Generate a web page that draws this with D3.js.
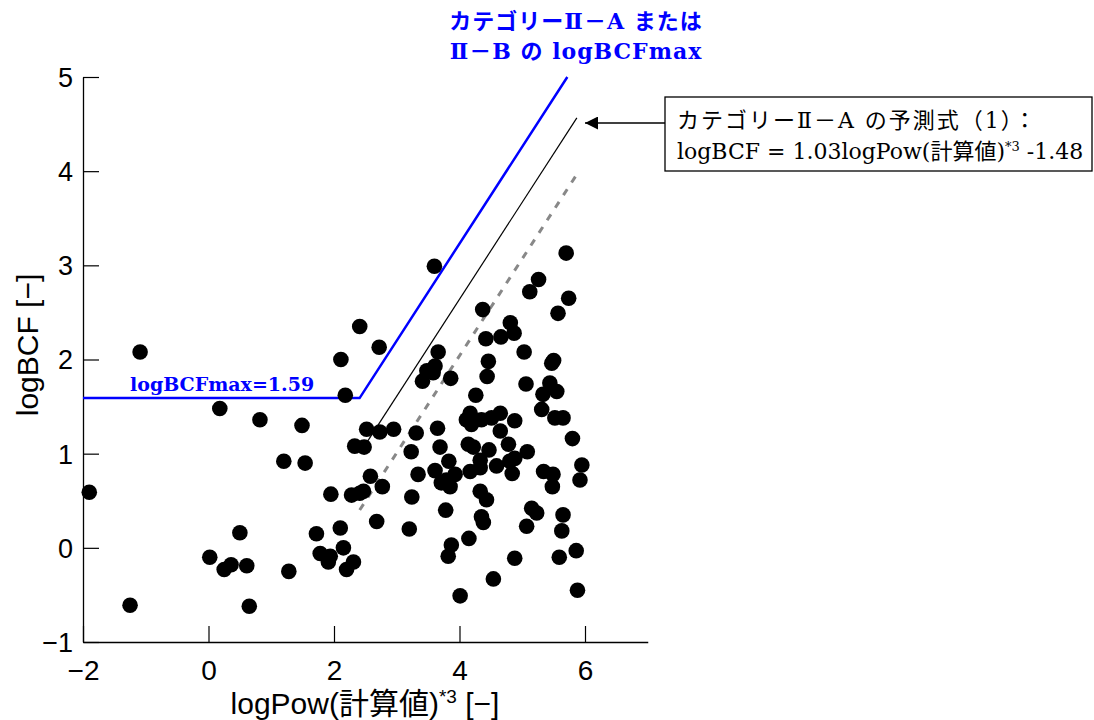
<!DOCTYPE html>
<html>
<head>
<meta charset="utf-8">
<script src="https://cdn.jsdelivr.net/npm/d3@7"></script>
<style>
body { margin: 0; background: #fff; }
.sans { font-family: "Liberation Sans", Arial, "Noto Sans CJK JP", sans-serif; }
.serif { font-family: "DejaVu Serif", "Liberation Serif", "Noto Sans CJK JP", serif; }
</style>
</head>
<body>
<svg id="chart" width="1094" height="720"></svg>
<script>
// measured points: logPow (calc) vs logBCF
var logPow = [
	-1.90, -1.09, -1.25, 0.18, 0.82, 1.49, 1.20, 1.54, 0.02, 0.25,
	0.36, 0.50, 0.61, 0.65, 1.28, 1.72, 1.78, 1.91, 1.94, 2.15,
	2.10, 1.95, 2.20, 2.31, 2.11, 2.18, 2.41, 2.72, 2.52, 2.73,
	2.95, 2.33, 2.48, 2.58, 2.77, 2.28, 2.41, 2.47, 2.68, 3.60,
	5.70, 5.26, 5.12, 5.74, 5.57, 4.37, 4.81, 4.87, 4.42, 4.66,
	5.03, 5.50, 5.47, 3.66, 3.61, 3.48, 3.58, 3.41, 3.86, 4.46,
	4.44, 5.06, 5.44, 5.55, 5.33, 4.26, 5.31, 5.52, 5.65, 5.80,
	4.17, 4.11, 4.19, 4.35, 4.51, 4.65, 4.65, 4.88, 3.65, 3.31,
	3.23, 3.69, 4.14, 4.22, 4.47, 4.78, 5.08, 3.83, 4.33, 4.88,
	4.80, 3.61, 3.93, 3.79, 3.85, 3.71, 4.17, 4.33, 4.59, 4.84,
	5.34, 5.49, 5.48, 5.95, 5.92, 3.34, 3.24, 4.33, 4.43, 3.78,
	4.35, 4.38, 5.15, 5.23, 5.65, 3.20, 5.07, 5.63, 4.15, 3.87,
	3.82, 4.88, 5.59, 5.86, 4.54, 4.01, 5.88
];
var logBCF = [
	0.59, 2.08, -0.61, 1.48, 1.36, 1.30, 0.92, 0.90, -0.10, -0.23,
	-0.18, 0.16, -0.19, -0.62, -0.25, 0.15, -0.06, -0.15, -0.09, 0.00,
	0.21, 0.57, -0.23, -0.15, 2.00, 1.62, 2.35, 2.13, 1.26, 1.23,
	1.26, 1.08, 1.07, 0.76, 0.65, 0.56, 0.58, 0.60, 0.28, 2.99,
	3.13, 2.85, 2.72, 2.65, 2.49, 2.53, 2.39, 2.28, 2.22, 2.24,
	2.08, 1.99, 1.96, 2.08, 1.93, 1.88, 1.86, 1.77, 1.80, 1.98,
	1.82, 1.74, 1.75, 1.66, 1.63, 1.62, 1.47, 1.38, 1.38, 1.16,
	1.43, 1.36, 1.31, 1.36, 1.38, 1.43, 1.24, 1.35, 1.27, 1.22,
	1.02, 1.07, 1.10, 1.07, 1.04, 1.10, 1.02, 0.92, 0.93, 0.95,
	0.92, 0.82, 0.78, 0.72, 0.65, 0.69, 0.81, 0.85, 0.87, 0.79,
	0.81, 0.78, 0.65, 0.88, 0.72, 0.78, 0.54, 0.60, 0.51, 0.40,
	0.33, 0.27, 0.42, 0.37, 0.35, 0.20, 0.23, 0.18, 0.10, 0.03,
	-0.09, -0.11, -0.10, -0.03, -0.33, -0.51, -0.45
];

var xTicks = [-2, 0, 2, 4, 6];
var yTicks = [-1, 0, 1, 2, 3, 4, 5];

// reference lines
var bcfMax = 1.59;
var slope = 1.03;
var fitIntercept = -1.48;
var maxIntercept = -0.89;
var lowIntercept = -2.08;
var fitRange = [2.41, 5.87];
var lowRange = [2.41, 5.89];

var titleLines = ["カテゴリーⅡ－A または", "Ⅱ－B の logBCFmax"];
var noteLine1 = "カテゴリーⅡ－A の予測式（1）：";

var svg = d3.select("#chart");

var x = d3.scaleLinear().domain([-2, 7]).range([83, 647.75]);
var y = d3.scaleLinear().domain([-1, 5]).range([642, 77]);

var points = logPow.map(function(d, i) { return {x: d, y: logBCF[i]}; });

function minus(d) { return d < 0 ? "\u2212" + Math.abs(d) : d; }

// axes (ticks inside)
var yAxis = svg.append("g")
	.attr("transform", "translate(" + x(-2) + ",0)")
	.call(d3.axisLeft(y).tickValues(yTicks).tickSizeInner(-16).tickSizeOuter(0).tickFormat(minus));
yAxis.select(".domain").attr("stroke", "#000").attr("stroke-width", 1.3);
yAxis.selectAll(".tick line").attr("stroke", "#000").attr("stroke-width", 1.2);
yAxis.selectAll(".tick text")
	.attr("class", "sans").attr("x", -10).attr("dy", "0.35em")
	.attr("font-size", 27).attr("fill", "#000");

var xAxis = svg.append("g")
	.attr("transform", "translate(0," + y(-1) + ")")
	.call(d3.axisBottom(x).tickValues(xTicks).tickSizeInner(-16).tickSizeOuter(0).tickFormat(minus));
xAxis.select(".domain").attr("stroke", "#000").attr("stroke-width", 1.3);
xAxis.selectAll(".tick line").attr("stroke", "#000").attr("stroke-width", 1.2);
xAxis.selectAll(".tick text")
	.attr("class", "sans").attr("y", 18).attr("dy", "0.71em")
	.attr("font-size", 28).attr("fill", "#000");

// axis titles
svg.append("text")
	.attr("class", "sans")
	.attr("transform", "translate(38,345) rotate(-90)")
	.attr("text-anchor", "middle")
	.attr("font-size", 30)
	.text("logBCF [\u2212]");

var xt = svg.append("text")
	.attr("class", "sans")
	.attr("x", 365).attr("y", 714)
	.attr("text-anchor", "middle")
	.attr("font-size", 30);
xt.append("tspan").text("logPow(計算値)");
xt.append("tspan").attr("dy", -11).attr("font-size", 19).text("*3");
xt.append("tspan").attr("dy", 11).text(" [\u2212]");

// reference lines
var line = d3.line().x(function(d) { return x(d[0]); }).y(function(d) { return y(d[1]); });
var kinkX = (bcfMax - maxIntercept) / slope;
var topX = (5 - maxIntercept) / slope;

svg.append("path")
	.attr("d", line([[-2, bcfMax], [kinkX, bcfMax], [topX, 5]]))
	.attr("fill", "none").attr("stroke", "#0000ff").attr("stroke-width", 2.5);

svg.append("path")
	.attr("d", line(fitRange.map(function(v) { return [v, slope * v + fitIntercept]; })))
	.attr("fill", "none").attr("stroke", "#000").attr("stroke-width", 1.2);

svg.append("path")
	.attr("d", line(lowRange.map(function(v) { return [v, slope * v + lowIntercept]; })))
	.attr("fill", "none").attr("stroke", "#888").attr("stroke-width", 3)
	.attr("stroke-dasharray", "7,8");

// points
svg.append("g").selectAll("circle")
	.data(points)
	.enter()
	.append("circle")
	.attr("cx", function(d) { return x(d.x); })
	.attr("cy", function(d) { return y(d.y); })
	.attr("r", 7.8)
	.attr("fill", "#000");

// blue labels
svg.append("text")
	.attr("class", "serif")
	.attr("x", 130).attr("y", y(bcfMax) - 7)
	.attr("font-size", 19).attr("font-weight", "bold")
	.attr("fill", "#0000ff")
	.text("logBCFmax=" + bcfMax);

svg.append("g").selectAll("text")
	.data(titleLines)
	.enter()
	.append("text")
	.attr("class", "serif")
	.attr("x", 576)
	.attr("y", function(d, i) { return 29 + i * 30; })
	.attr("text-anchor", "middle")
	.attr("font-size", 22).attr("font-weight", "bold")
	.attr("letter-spacing", 1)
	.attr("fill", "#0000ff")
	.text(function(d) { return d; });

// annotation box + arrow
svg.append("defs").append("marker")
	.attr("id", "arrow")
	.attr("viewBox", "0 0 10 10")
	.attr("refX", 10).attr("refY", 5)
	.attr("markerWidth", 16).attr("markerHeight", 13)
	.attr("markerUnits", "userSpaceOnUse")
	.attr("orient", "auto")
	.append("path")
	.attr("d", "M0,0L10,5L0,10z")
	.attr("fill", "#000");

svg.append("rect")
	.attr("x", 665).attr("y", 97)
	.attr("width", 427).attr("height", 74)
	.attr("fill", "#fff").attr("stroke", "#000").attr("stroke-width", 1.3);

svg.append("line")
	.attr("x1", 665).attr("y1", 123)
	.attr("x2", 585).attr("y2", 123)
	.attr("stroke", "#000").attr("stroke-width", 1.5)
	.attr("marker-end", "url(#arrow)");

svg.append("text")
	.attr("class", "serif")
	.attr("x", 677).attr("y", 128)
	.attr("font-size", 22)
	.attr("letter-spacing", 2)
	.text(noteLine1);

var eq = svg.append("text")
	.attr("class", "serif")
	.attr("x", 677).attr("y", 159)
	.attr("font-size", 22);
eq.append("tspan").text("logBCF = " + slope + "logPow(計算値)");
eq.append("tspan").attr("dy", -8).attr("font-size", 13).text("*3");
eq.append("tspan").attr("dy", 8).text(" -" + Math.abs(fitIntercept).toFixed(2));
</script>
</body>
</html>
